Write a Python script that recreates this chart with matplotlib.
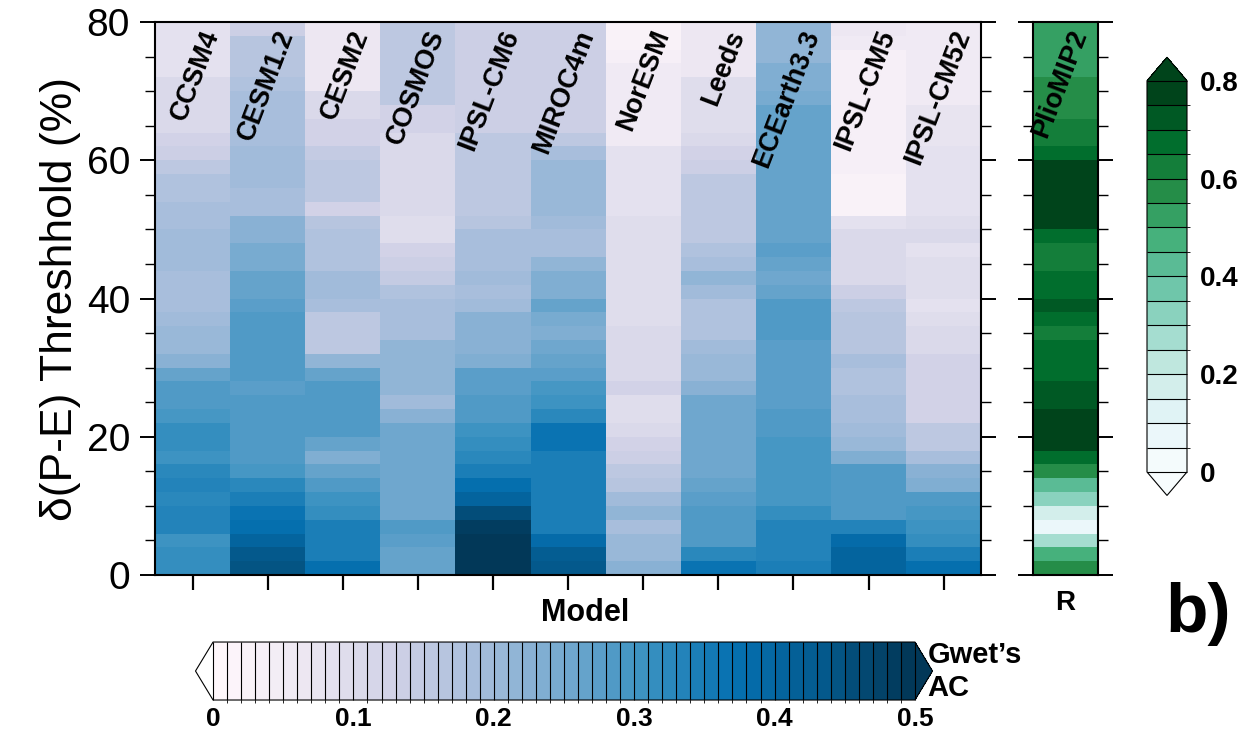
import numpy as np
import matplotlib.pyplot as plt
from matplotlib.colors import ListedColormap, BoundaryNorm
from matplotlib.cm import ScalarMappable
from matplotlib.ticker import MultipleLocator

plt.rcParams['font.family'] = ['Liberation Sans', 'DejaVu Sans']

models = ['CCSM4', 'CESM1.2', 'CESM2', 'COSMOS', 'IPSL-CM6', 'MIROC4m',
          'NorESM', 'Leeds', 'ECEarth3.3', 'IPSL-CM5', 'IPSL-CM52']

# threshold bin edges (%), 2% bins
thresholds = np.arange(0, 82, 2)

# Gwet's AC per model, one value per threshold bin, from 0% up to 80%
ccsm4 = [0.31, 0.31, 0.30, 0.33, 0.33, 0.32, 0.33, 0.32, 0.30, 0.31,
         0.31, 0.29, 0.28, 0.28, 0.26, 0.22, 0.20, 0.20, 0.19, 0.18,
         0.18, 0.18, 0.19, 0.19, 0.19, 0.18, 0.18, 0.17, 0.17, 0.15,
         0.13, 0.12, 0.10, 0.10, 0.10, 0.10, 0.08, 0.08, 0.08, 0.08]
cesm12 = [0.44, 0.43, 0.40, 0.37, 0.36, 0.34, 0.32, 0.29, 0.28, 0.28,
          0.28, 0.28, 0.28, 0.27, 0.28, 0.28, 0.28, 0.28, 0.28, 0.27,
          0.26, 0.26, 0.24, 0.24, 0.22, 0.22, 0.18, 0.18, 0.19, 0.19,
          0.19, 0.18, 0.18, 0.18, 0.18, 0.17, 0.16, 0.16, 0.16, 0.13]
cesm2 = [0.37, 0.35, 0.34, 0.34, 0.31, 0.30, 0.28, 0.26, 0.23, 0.26,
         0.28, 0.28, 0.28, 0.28, 0.26, 0.21, 0.15, 0.15, 0.15, 0.18,
         0.19, 0.19, 0.17, 0.17, 0.17, 0.16, 0.12, 0.15, 0.15, 0.15,
         0.14, 0.12, 0.12, 0.10, 0.10, 0.06, 0.06, 0.06, 0.06, 0.06]
cosmos = [0.26, 0.26, 0.27, 0.28, 0.25, 0.25, 0.25, 0.25, 0.25, 0.25,
          0.25, 0.22, 0.19, 0.21, 0.21, 0.21, 0.21, 0.18, 0.18, 0.18,
          0.17, 0.14, 0.13, 0.12, 0.09, 0.09, 0.10, 0.10, 0.10, 0.10,
          0.10, 0.10, 0.12, 0.12, 0.15, 0.15, 0.15, 0.15, 0.15, 0.15]
ipsl_cm6 = [0.49, 0.49, 0.49, 0.48, 0.45, 0.40, 0.37, 0.34, 0.32, 0.31,
            0.30, 0.28, 0.28, 0.27, 0.27, 0.23, 0.22, 0.22, 0.22, 0.19,
            0.18, 0.19, 0.18, 0.18, 0.18, 0.16, 0.15, 0.15, 0.15, 0.15,
            0.15, 0.15, 0.13, 0.13, 0.13, 0.13, 0.13, 0.13, 0.13, 0.13]
miroc4m = [0.43, 0.42, 0.38, 0.34, 0.34, 0.34, 0.34, 0.34, 0.35, 0.36,
           0.36, 0.32, 0.30, 0.29, 0.27, 0.26, 0.25, 0.23, 0.24, 0.26,
           0.23, 0.23, 0.21, 0.18, 0.18, 0.19, 0.20, 0.20, 0.20, 0.20,
           0.18, 0.15, 0.13, 0.13, 0.13, 0.13, 0.13, 0.13, 0.13, 0.13]
noresm = [0.22, 0.20, 0.20, 0.18, 0.21, 0.19, 0.16, 0.15, 0.13, 0.12,
          0.10, 0.09, 0.09, 0.12, 0.10, 0.10, 0.10, 0.10, 0.09, 0.09,
          0.09, 0.09, 0.09, 0.09, 0.09, 0.09, 0.08, 0.08, 0.08, 0.08,
          0.08, 0.05, 0.05, 0.05, 0.05, 0.05, 0.05, 0.03, 0.02, 0.02]
leeds = [0.36, 0.32, 0.28, 0.28, 0.28, 0.27, 0.26, 0.25, 0.25, 0.25,
         0.25, 0.25, 0.25, 0.22, 0.20, 0.20, 0.19, 0.17, 0.17, 0.17,
         0.19, 0.21, 0.18, 0.17, 0.15, 0.15, 0.15, 0.15, 0.15, 0.13,
         0.12, 0.10, 0.09, 0.09, 0.09, 0.09, 0.06, 0.06, 0.06, 0.06]
ecearth33 = [0.34, 0.33, 0.33, 0.33, 0.31, 0.29, 0.29, 0.29, 0.29, 0.29,
             0.28, 0.28, 0.27, 0.27, 0.27, 0.27, 0.27, 0.28, 0.28, 0.28,
             0.26, 0.25, 0.26, 0.27, 0.26, 0.26, 0.26, 0.26, 0.26, 0.26,
             0.26, 0.26, 0.26, 0.26, 0.24, 0.23, 0.23, 0.21, 0.21, 0.21]
ipsl_cm5 = [0.41, 0.41, 0.38, 0.33, 0.28, 0.28, 0.28, 0.28, 0.23, 0.20,
            0.19, 0.18, 0.18, 0.17, 0.17, 0.18, 0.16, 0.16, 0.16, 0.15,
            0.13, 0.10, 0.10, 0.10, 0.10, 0.08, 0.02, 0.02, 0.02, 0.03,
            0.03, 0.03, 0.03, 0.03, 0.03, 0.03, 0.03, 0.03, 0.05, 0.06]
ipsl_cm52 = [0.37, 0.34, 0.31, 0.30, 0.29, 0.28, 0.23, 0.22, 0.18, 0.15,
             0.15, 0.12, 0.12, 0.12, 0.12, 0.12, 0.10, 0.10, 0.09, 0.08,
             0.09, 0.09, 0.09, 0.08, 0.10, 0.09, 0.08, 0.08, 0.08, 0.08,
             0.08, 0.07, 0.07, 0.07, 0.05, 0.05, 0.05, 0.05, 0.05, 0.05]

# PlioMIP2 correlation (R) per threshold bin
plio_r = [0.58, 0.45, 0.25, 0.07, 0.18, 0.33, 0.42, 0.60, 0.70, 0.78,
          0.78, 0.76, 0.71, 0.74, 0.70, 0.68, 0.65, 0.62, 0.70, 0.74,
          0.69, 0.66, 0.63, 0.62, 0.66, 0.78, 0.78, 0.78, 0.78, 0.78,
          0.67, 0.64, 0.63, 0.60, 0.59, 0.58, 0.53, 0.52, 0.52, 0.54]

gwet_ac = np.array([ccsm4, cesm12, cesm2, cosmos, ipsl_cm6, miroc4m,
                    noresm, leeds, ecearth33, ipsl_cm5, ipsl_cm52]).T

# discrete colour scales
ac_levels = np.linspace(0, 0.5, 51)
ac_cmap = ListedColormap(plt.cm.PuBu(np.linspace(0, 1, 50)))
ac_cmap.set_under('white')
ac_cmap.set_over(plt.cm.PuBu(1.0))
ac_norm = BoundaryNorm(ac_levels, 50)

r_levels = np.linspace(0, 0.8, 17)
r_cmap = ListedColormap(plt.cm.BuGn(np.linspace(0.02, 1, 16)))
r_cmap.set_under('#f7fcfd')
r_cmap.set_over('#00441b')
r_norm = BoundaryNorm(r_levels, 16)

fig = plt.figure(figsize=(12.5, 7.34), dpi=100)

# main panel
ax = fig.add_axes([0.124, 0.2166, 0.661, 0.7534])
ax.pcolormesh(np.arange(len(models) + 1), thresholds, gwet_ac,
              cmap=ac_cmap, norm=ac_norm)
ax.set_xlim(0, len(models))
ax.set_ylim(0, 80)
ax.set_xticks(np.arange(len(models)) + 0.5)
ax.set_xticklabels([])
ax.set_yticks([0, 20, 40, 60, 80])
ax.yaxis.set_minor_locator(MultipleLocator(5))
ax.tick_params(axis='x', direction='out', length=11, width=1.6, top=False)
ax.tick_params(axis='y', which='major', direction='out', length=11, width=1.4,
               left=True, right=True, labelsize=28, pad=7)
ax.tick_params(axis='y', which='minor', direction='out', length=7, width=1.0,
               left=True, right=True)
for sp in ax.spines.values():
    sp.set_linewidth(1.5)
ax.set_ylabel('δ(P-E) Threshhold (%)', fontsize=32, labelpad=4)
ax.set_xlabel('Model', fontsize=22, fontweight='bold', labelpad=2)
ax.xaxis.label.set_x(0.52)

for i, name in enumerate(models):
    ax.text(i + 0.92, 78.0, name, rotation=69, rotation_mode='anchor',
            ha='right', va='bottom', fontsize=19.5, fontweight='bold')

# PlioMIP2 R column
axr = fig.add_axes([0.8264, 0.2166, 0.052, 0.7534])
axr.pcolormesh([0, 1], thresholds, np.array(plio_r)[:, None],
               cmap=r_cmap, norm=r_norm)
axr.set_xlim(0, 1)
axr.set_ylim(0, 80)
axr.set_xticks([])
axr.set_yticks([0, 20, 40, 60, 80])
axr.yaxis.set_minor_locator(MultipleLocator(5))
axr.tick_params(axis='y', which='major', direction='out', length=11, width=1.4,
                left=True, right=True, labelleft=False)
axr.tick_params(axis='y', which='minor', direction='out', length=7, width=1.0,
                left=True, right=True)
for sp in axr.spines.values():
    sp.set_linewidth(1.5)
axr.set_xlabel('R', fontsize=20, fontweight='bold', labelpad=11)
axr.text(0.92, 78.0, 'PlioMIP2', rotation=69, rotation_mode='anchor',
         ha='right', va='bottom', fontsize=19.5, fontweight='bold')

# horizontal colour bar for Gwet's AC
cax = fig.add_axes([0.1564, 0.0463, 0.5896, 0.079])
cb = fig.colorbar(ScalarMappable(norm=ac_norm, cmap=ac_cmap), cax=cax,
                  orientation='horizontal', extend='both', drawedges=True,
                  extendfrac=0.025, ticks=[0, 0.1, 0.2, 0.3, 0.4, 0.5])
cb.ax.set_xticklabels(['0', '0.1', '0.2', '0.3', '0.4', '0.5'])
cb.ax.tick_params(length=0, labelsize=19, pad=5)
for lab in cb.ax.get_xticklabels():
    lab.set_fontweight('bold')
cb.outline.set_linewidth(0.8)
cb.dividers.set_linewidth(0.8)
fig.text(0.742, 0.085, "Gwet’s\nAC", fontsize=21, fontweight='bold',
         ha='left', va='center', linespacing=1.2)

# vertical colour bar for R
rcax = fig.add_axes([0.9176, 0.325, 0.032, 0.597])
rcb = fig.colorbar(ScalarMappable(norm=r_norm, cmap=r_cmap), cax=rcax,
                   orientation='vertical', extend='both', drawedges=True,
                   extendfrac=0.06, ticks=[0, 0.2, 0.4, 0.6, 0.8])
rcb.ax.set_yticklabels(['0', '0.2', '0.4', '0.6', '0.8'])
rcb.ax.tick_params(length=0, labelsize=20, pad=9)
for lab in rcb.ax.get_yticklabels():
    lab.set_fontweight('bold')
rcb.outline.set_linewidth(0.8)
rcb.dividers.set_linewidth(0.8)

fig.text(0.932, 0.163, 'b)', fontsize=50, fontweight='bold', ha='left',
         va='center')

fig.savefig('out.png', dpi=100)
